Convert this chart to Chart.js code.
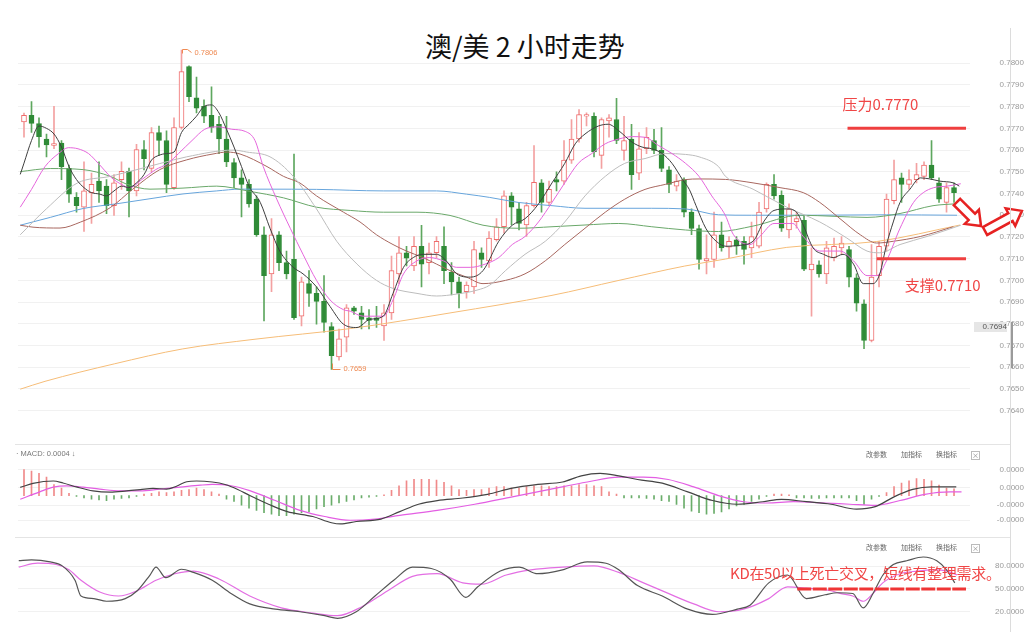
<!DOCTYPE html>
<html>
<head>
<meta charset="utf-8">
<script src="https://cdn.jsdelivr.net/npm/chart.js@4.4.0/dist/chart.umd.min.js"></script>
<style>
  body { margin: 0; width: 1024px; height: 632px; background: #fff; position: relative; overflow: hidden;
         font-family: "Noto Sans CJK SC", "Liberation Sans", sans-serif; }
  canvas { position: absolute; left: 0; }
  #main { top: 0; } #macd { top: 445px; } #kd { top: 538px; }
  #title { position: absolute; left: 425px; top: 26px; font-size: 27px; color: #111; white-space: nowrap; }
  .sep { position: absolute; left: 15px; width: 995px; height: 1px; background: #e4e4e4; }
  .vline { position: absolute; left: 1010px; top: 28px; width: 1px; height: 604px; background: #dcdcdc; }
  .thumb { position: absolute; left: 1011px; top: 322px; width: 2px; height: 46px; background: #9a9a9a; }
  .hdr { position: absolute; font: 7.5px "Liberation Sans", sans-serif; color: #777; white-space: nowrap; }
  .btns { position: absolute; left: 866px; font-size: 7px; color: #666; white-space: nowrap; }
  .btns span { margin-right: 14px; }
  .btns b { font-weight: normal; display: inline-block; width: 7px; height: 7px; line-height: 7px; text-align: center;
            border: 1px solid #bbb; font-size: 7px; color: #888; vertical-align: middle; }
  #kdnote { position: absolute; left: 730px; top: 562px; font-size: 15px; color: #f04545; white-space: nowrap; letter-spacing: -0.3px; }
  #lastbox { position: absolute; left: 974px; top: 322px; width: 33px; height: 10px; background: #e6e6e6;
             font: 8px "Liberation Sans", sans-serif; color: #555; text-align: right; line-height: 10px; }
</style>
</head>
<body>
<div id="title">澳/美 2 小时走势</div>
<canvas id="main" width="1024" height="445"></canvas>
<canvas id="macd" width="1024" height="93"></canvas>
<canvas id="kd" width="1024" height="94"></canvas>
<div class="sep" style="top:444px"></div>
<div class="sep" style="top:537px"></div>
<div class="vline"></div>
<div class="thumb"></div>
<div class="hdr" style="left:16px;top:449px">· MACD: 0.0004 ↓</div>
<div class="btns" style="top:449px"><span>改参数</span><span>加指标</span><span>换指标</span><b>×</b></div>
<div class="btns" style="top:542px"><span>改参数</span><span>加指标</span><span>换指标</span><b>×</b></div>
<div id="kdnote">KD在50以上死亡交叉，短线有整理需求。</div>
<div id="lastbox">0.7694</div>

<script>
// AUD/USD 2h candles, one per bar slot (index 0..124)
const opens = [0.77730,0.77760,0.77722,0.77651,0.77622,0.77632,0.77516,0.77382,0.77337,0.77404,
  0.77457,0.77434,0.77344,0.77464,0.77502,0.77412,0.77602,0.77516,0.77681,0.77644,
  0.77427,0.77704,0.77985,0.77841,0.77801,0.77760,0.77719,0.77651,0.77542,0.77472,
  0.77442,0.77374,0.77210,0.77030,0.77210,0.77082,0.77097,0.76835,0.76985,0.76940,
  0.76903,0.76787,0.76648,0.76738,0.76873,0.76850,0.76828,0.76828,0.76790,0.76850,
  0.77030,0.77127,0.77067,0.77157,0.77082,0.77127,0.77157,0.77037,0.76993,0.76948,
  0.76970,0.77127,0.77090,0.77187,0.77247,0.77389,0.77329,0.77255,0.77344,0.77449,
  0.77359,0.77464,0.77457,0.77554,0.77651,0.77756,0.77756,0.77576,0.77734,0.77741,
  0.77599,0.77651,0.77494,0.77606,0.77644,0.77599,0.77509,0.77434,0.77464,0.77314,
  0.77239,0.77090,0.77097,0.77210,0.77153,0.77187,0.77180,0.77150,0.77157,0.77329,
  0.77442,0.77392,0.77232,0.77270,0.77277,0.77048,0.77072,0.77030,0.77105,0.77150,
  0.77142,0.77012,0.76892,0.76723,0.77022,0.77157,0.77367,0.77472,0.77442,0.77464,
  0.77479,0.77531,0.77449,0.77359,0.77427];
const highs = [0.77770,0.77823,0.77749,0.77674,0.77801,0.77644,0.77531,0.77404,0.77546,0.77494,
  0.77546,0.77464,0.77487,0.77546,0.77517,0.77626,0.77644,0.77704,0.77711,0.77689,
  0.77749,0.78060,0.77988,0.77936,0.77831,0.77891,0.77756,0.77756,0.77561,0.77509,
  0.77464,0.77389,0.77247,0.77284,0.77225,0.77135,0.77582,0.77015,0.77045,0.76970,
  0.77022,0.76806,0.76776,0.76888,0.76880,0.76880,0.76866,0.76880,0.76888,0.77112,
  0.77202,0.77157,0.77202,0.77254,0.77172,0.77202,0.77247,0.77082,0.77015,0.76993,
  0.77180,0.77150,0.77225,0.77284,0.77412,0.77404,0.77359,0.77359,0.77621,0.77464,
  0.77457,0.77500,0.77644,0.77741,0.77786,0.77771,0.77771,0.77749,0.77763,0.77838,
  0.77756,0.77719,0.77681,0.77704,0.77696,0.77704,0.77524,0.77487,0.77472,0.77329,
  0.77255,0.77210,0.77314,0.77269,0.77202,0.77202,0.77202,0.77269,0.77359,0.77449,
  0.77487,0.77412,0.77352,0.77314,0.77299,0.77150,0.77090,0.77180,0.77195,0.77202,
  0.77157,0.77030,0.76910,0.77165,0.77180,0.77397,0.77554,0.77494,0.77509,0.77539,
  0.77546,0.77644,0.77472,0.77449,0.77449];
const lows = [0.77660,0.77681,0.77614,0.77569,0.77606,0.77464,0.77359,0.77314,0.77225,0.77262,
  0.77359,0.77307,0.77299,0.77419,0.77292,0.77389,0.77509,0.77501,0.77576,0.77404,
  0.77419,0.77696,0.77823,0.77771,0.77726,0.77681,0.77584,0.77524,0.77427,0.77292,
  0.77337,0.77202,0.76813,0.76948,0.77045,0.77007,0.76820,0.76790,0.76880,0.76798,
  0.76761,0.76590,0.76633,0.76671,0.76843,0.76776,0.76776,0.76783,0.76723,0.76820,
  0.76985,0.77067,0.77045,0.76970,0.77030,0.77105,0.76985,0.76933,0.76873,0.76918,
  0.76940,0.77060,0.77060,0.77180,0.77217,0.77255,0.77232,0.77202,0.77337,0.77314,
  0.77344,0.77412,0.77442,0.77539,0.77636,0.77711,0.77569,0.77516,0.77659,0.77629,
  0.77554,0.77419,0.77464,0.77584,0.77584,0.77501,0.77404,0.77412,0.77292,0.77210,
  0.77052,0.77030,0.77060,0.77135,0.77105,0.77120,0.77075,0.77105,0.77150,0.77314,
  0.77374,0.77225,0.77195,0.77240,0.77045,0.76835,0.77015,0.76985,0.77090,0.77120,
  0.76970,0.76858,0.76686,0.76716,0.76970,0.77135,0.77352,0.77359,0.77419,0.77449,
  0.77464,0.77464,0.77359,0.77314,0.77359];
const closes = [0.77760,0.77723,0.77662,0.77624,0.77630,0.77524,0.77397,0.77344,0.77412,0.77442,
  0.77412,0.77344,0.77449,0.77502,0.77412,0.77602,0.77561,0.77681,0.77644,0.77442,
  0.77704,0.77961,0.77846,0.77793,0.77756,0.77704,0.77651,0.77546,0.77472,0.77442,
  0.77352,0.77210,0.77022,0.77210,0.77082,0.77030,0.76828,0.76993,0.76940,0.76903,
  0.76806,0.76653,0.76731,0.76873,0.76858,0.76820,0.76816,0.76816,0.76850,0.77045,
  0.77127,0.77102,0.77157,0.77075,0.77127,0.77180,0.77045,0.76993,0.76940,0.76978,
  0.77142,0.77097,0.77195,0.77247,0.77389,0.77337,0.77262,0.77344,0.77452,0.77359,
  0.77419,0.77452,0.77554,0.77651,0.77763,0.77763,0.77591,0.77741,0.77749,0.77644,
  0.77644,0.77487,0.77606,0.77659,0.77599,0.77516,0.77442,0.77457,0.77314,0.77239,
  0.77097,0.77100,0.77210,0.77150,0.77180,0.77157,0.77142,0.77202,0.77314,0.77442,
  0.77389,0.77240,0.77329,0.77285,0.77052,0.77075,0.77030,0.77150,0.77157,0.77172,
  0.77015,0.76895,0.76723,0.77015,0.77157,0.77374,0.77464,0.77442,0.77464,0.77487,
  0.77531,0.77472,0.77374,0.77427,0.77404];

// moving averages as [bar index, price]
const ma5 = [[-0.5,0.77488],[0,0.7754],[1,0.77644],[2,0.77711],[3,0.77700],[4,0.77674],[5,0.77614],[6,0.77524],[7,0.77464],
  [8,0.77427],[9,0.77404],[10,0.77398],[11,0.77389],[12,0.77412],[13,0.77434],[14,0.77427],[15,0.77449],[16,0.77487],
  [17,0.77554],[18,0.77576],[19,0.77584],[20,0.77591],[21,0.77681],[22,0.77719],[23,0.77756],[24,0.77801],[25,0.77808],
  [26,0.77771],[27,0.77696],[28,0.77614],[29,0.77524],[30,0.77434],[31.5,0.77359],[32.8,0.77240],[34.1,0.77135],
  [35.9,0.77060],[37.2,0.77030],[39,0.76970],[40.8,0.76880],[42.6,0.76798],[44.4,0.76783],[46.1,0.76820],[47.9,0.76835],
  [49.2,0.76940],[50.6,0.77060],[51.9,0.77105],[53.2,0.77120],[55,0.77120],[56.3,0.77090],[57.7,0.77030],[59.5,0.77015],
  [61.2,0.77045],[63.3,0.77180],[65.1,0.77254],[66.8,0.77284],[68.6,0.77352],[70.4,0.77449],[72.1,0.77539],[73.5,0.77629],
  [74.8,0.77674],[76.6,0.77711],[77.9,0.77719],[79.3,0.77689],[81.1,0.77636],[82.4,0.77614],[83.7,0.77606],[85.1,0.77584],
  [86.4,0.77539],[87.8,0.77464],[88.7,0.77419],[89.6,0.77344],[90.9,0.77240],[92.3,0.77180],[93.6,0.77157],[95,0.77160],
  [97.2,0.77180],[98.6,0.77269],[100,0.77322],[101.7,0.77329],[103,0.77314],[103.9,0.77254],[105.2,0.77150],[106.6,0.77120],
  [107.9,0.77105],[109.2,0.77120],[110.6,0.77075],[111.9,0.76985],[113.2,0.76985],[114.1,0.77030],[115,0.77165],
  [115.9,0.77269],[116.8,0.77359],[118.1,0.77419],[119.5,0.77472],[120.8,0.77467],[122.1,0.77457],[123.9,0.77449],[124.7,0.77434]];
const ma10 = [[-0.5,0.77337],[1,0.77419],[2.8,0.77524],[4.6,0.77584],[5.9,0.77611],[7.2,0.77606],[8.6,0.77584],[9.9,0.77539],
  [11.7,0.77472],[13,0.77442],[14.1,0.77427],[15.7,0.77464],[17.5,0.77509],[19.2,0.77539],[20.6,0.77584],[22.4,0.77644],
  [24.1,0.77696],[25.9,0.77707],[27.7,0.77696],[29.5,0.77686],[30.8,0.77644],[31.9,0.77524],[33.7,0.77374],[35.5,0.77240],
  [37.2,0.77120],[39,0.77000],[40.8,0.76910],[42.6,0.76865],[43.5,0.76858],[45.2,0.76835],[47.9,0.76835],[49.2,0.76910],
  [50.6,0.77030],[52.4,0.77090],[54.1,0.77105],[55.9,0.77090],[57.7,0.77060],[59.5,0.77060],[61.5,0.77075],[63.3,0.77105],
  [65.1,0.77165],[66.8,0.77202],[68.6,0.77269],[70.4,0.77359],[72.1,0.77449],[73.9,0.77539],[75.7,0.77584],[77.5,0.77629],
  [79.3,0.77651],[81.1,0.77662],[82.8,0.77659],[84.6,0.77621],[86.4,0.77584],[88.2,0.77539],[90,0.77479],[91.7,0.77389],
  [93.5,0.77300],[94.6,0.77210],[96.8,0.77165],[98.1,0.77202],[100,0.77262],[102.5,0.77262],[103.9,0.77202],[106.1,0.77135],
  [108.8,0.77135],[110.6,0.77090],[112.4,0.77022],[113.7,0.77022],[115,0.77090],[116.8,0.77240],[118.6,0.77359],
  [119.9,0.77404],[121.3,0.77427],[123.1,0.77434],[124.9,0.77445]];
const ma20 = [[-0.5,0.77210],[3,0.77330],[7.1,0.77448],[11.5,0.77479],[18.1,0.77538],[21.7,0.77569],[27.9,0.77600],
  [29.7,0.77591],[32.8,0.77569],[35.9,0.77479],[39,0.77329],[41.7,0.77180],[44.4,0.77075],[47,0.77000],[49.2,0.76963],
  [52.4,0.76940],[55,0.76928],[57.7,0.76937],[60.4,0.76955],[62.1,0.76978],[64.2,0.77045],[66.8,0.77120],[69.5,0.77180],
  [72.1,0.77269],[74.8,0.77389],[77.5,0.77479],[80.1,0.77539],[82.8,0.77561],[85.5,0.77584],[88.2,0.77580],[90,0.77569],
  [92.6,0.77524],[93.5,0.77480],[97.2,0.77420],[101.7,0.77337],[106.1,0.77269],[109.7,0.77195],[112.4,0.77135],
  [114.1,0.77127],[116.8,0.77165],[120.4,0.77202],[124.9,0.77254]];
const ma30 = [[-0.5,0.77254],[1.2,0.77245],[4.8,0.77241],[7.5,0.77268],[11.5,0.77335],[14.5,0.77420],[18.1,0.77510],
  [21.7,0.77555],[25.2,0.77582],[27.1,0.77591],[28.8,0.77582],[32.4,0.77524],[34.6,0.77479],[36.8,0.77448],[39,0.77389],
  [42.6,0.77314],[44.8,0.77269],[47,0.77210],[49.2,0.77165],[51,0.77135],[53.2,0.77105],[55,0.77075],[56.8,0.77045],
  [59,0.77015],[61.2,0.76985],[64.2,0.77000],[66.8,0.77030],[69.5,0.77090],[72.1,0.77165],[74.8,0.77240],[77.5,0.77314],
  [80.1,0.77374],[82.8,0.77419],[85.5,0.77442],[88.2,0.77464],[90,0.77467],[93.5,0.77465],[97.2,0.77449],[100.8,0.77427],
  [103.9,0.77404],[106.1,0.77359],[108.8,0.77284],[111.5,0.77210],[113.7,0.77172],[115.9,0.77180],[119.5,0.77202],[123.9,0.77247]];
const ma60 = [[-0.5,0.77501],[3.5,0.77515],[7.9,0.77510],[11.5,0.77479],[13.7,0.77443],[16.8,0.77420],[21.2,0.77425],
  [25.7,0.77434],[30.1,0.77410],[34.6,0.77380],[39,0.77337],[43.5,0.77322],[47.9,0.77314],[52.4,0.77314],[56.8,0.77299],
  [61.2,0.77254],[65.9,0.77240],[70.4,0.77247],[74.8,0.77255],[79.3,0.77262],[83.7,0.77247],[88.2,0.77232],[92.6,0.77225],
  [97.2,0.77250],[103.5,0.77300],[108,0.77295],[112.4,0.77290],[116.8,0.77308],[121.2,0.77344],[124.4,0.77353]];
const ma120 = [[-0.5,0.77254],[3.5,0.77290],[7.9,0.77331],[12.4,0.77353],[16.8,0.77376],[21.2,0.77398],[25.7,0.77412],
  [28.8,0.77420],[32.4,0.77420],[39,0.77419],[47.9,0.77412],[55,0.77412],[59,0.77397],[62.1,0.77382],[65.9,0.77359],
  [70.4,0.77344],[74.8,0.77332],[79.3,0.77332],[83.7,0.77332],[88.2,0.77329],[92.6,0.77302],[97,0.77300],[105,0.77300],
  [115,0.77302],[124.4,0.77300]];
const ma250 = [[-0.5,0.76499],[2.8,0.76535],[12.1,0.76616],[21.1,0.76684],[30.8,0.76729],[43.5,0.76778],[56.8,0.76850],
  [70.4,0.76931],[79.2,0.76999],[88.1,0.77066],[93.5,0.77098],[101.7,0.77152],[113.7,0.77179],[124.8,0.77255]];

// resistance / support marked on the chart
const resistance = 0.7770, resistanceSpan = [109.8, 125.6];
const support = 0.7710, supportSpan = [113.7, 125.6];
const priceTicks = [0.7640,0.7650,0.7660,0.7670,0.7680,0.7690,0.7700,0.7710,0.7720,0.7730,0.7740,0.7750,0.7760,0.7770,0.7780,0.7790,0.7800];

// MACD panel, values in units of 1e-6
const macdHist = [35,33,30,25,15,10,3,-1,-3,-5, -6,-7,-5,-4,-3,-1,2,3,5,4, 5,7,8,10,8,5,2,-5,-8,-13,
  -17,-20,-23,-25,-27,-27,-25,-23,-22,-18, -15,-13,-10,-8,-6,-3,-2,-1,1,7, 13,20,22,22,22,21,18,13,8,7,
  8,8,10,12,12,10,10,12,13,13, 12,12,13,13,15,15,13,12,5,2, -3,-3,-3,-4,-5,-7,-8,-12,-17,-21,
  -23,-25,-24,-22,-18,-14,-12,-8,-5,-1, 2,2,1,-3,-3,-4,-4,-3,-3,-3, -3,-7,-12,-5,-1,4,12,17,20,23, 22,20,14,10,9];
const macdDif = [[-0.5,11],[1.2,16.5],[3.9,19.7],[5.2,17],[7.1,11.3],[9.2,6.3],[11.5,4.7],[13.7,6.3],[15.5,8],[17.2,9.7],
  [19,8.7],[20.4,13],[21.7,18.7],[23,19.7],[25.1,18.3],[26.8,15],[28.5,8.3],[30.1,0],[32.6,-11.7],[35.1,-21.7],[38.5,-28.3],
  [41,-36.7],[42.2,-38.3],[44.3,-35],[47.6,-31.7],[50.1,-21.7],[52.6,-11.7],[55.1,-6.7],[58.5,-3.3],[61.8,1.7],[65.1,10],
  [68.5,15],[71.8,18.3],[74.3,26.7],[76.8,30],[79.3,26.7],[81.8,21.7],[85.1,16.7],[88.5,5],[91.8,-6.7],[95.1,-11.7],
  [98.5,-8.3],[101,-5],[104.3,-8.3],[107.6,-11.7],[111,-18.3],[113.5,-15],[116,-1.7],[118.5,8.3],[121,11.7],[124.3,11.7]];
const macdDea = [[-0.5,-5],[2.1,5],[3.9,11.3],[5.7,13],[7.9,11.3],[10.1,8.7],[12.8,6.3],[15.5,6.3],[18.1,8.7],[20.8,11.3],
  [23.5,14],[25.1,15],[27.6,13.3],[30.1,6.7],[33.5,-6.7],[36.8,-20],[40.1,-28.3],[43.5,-33.3],[46.8,-31.7],[50.1,-26.7],
  [55.1,-20],[60.1,-11.7],[65.1,-1.7],[70.1,8.3],[75.1,18.3],[79.3,25],[82.6,25],[85.9,21.7],[89.3,11.7],[92.6,0],
  [95.9,-8.3],[99.1,-10],[102.6,-8.3],[106.8,-10],[110.1,-11.7],[113.5,-13.3],[116.8,-6.7],[120.1,1.7],[123.5,5],[125,5]];
const macdTicks = [35, 11, -13, -33];

// KD panel
const kdK = [[-0.7,87.2],[1,88.3],[3.5,85.5],[5.1,80.3],[6.8,61.4],[7.6,40.7],[9.3,37.3],[11,33.8],[13.5,37.3],[15.1,47.6],
  [16.8,68.3],[17.6,78.7],[18.9,64.8],[21,75.9],[22.6,71.7],[25.1,61.4],[27.6,44.1],[30.1,30.3],[33.5,23.4],[36.8,20],
  [40.1,14.8],[41.8,11.4],[44.3,20],[46.8,40.7],[49.3,61.4],[51.8,78.7],[54.3,76.9],[56.8,63.1],[58.9,38.9],[60.5,52.8],
  [63.5,73.5],[66,78.7],[68.5,70],[71.8,75.1],[75.1,85.5],[77.6,83.8],[79.3,75.1],[81.8,54.4],[85.1,40.7],[88.5,23.4],
  [91.8,16.6],[95.1,23.4],[96.8,28.6],[99.3,58],[101.8,68.3],[104.3,37.3],[106.8,42.4],[108.5,45],[110.5,44],[111.9,25],
  [113.2,44],[114.5,68],[115.9,82],[117.7,87],[119.9,92],[121.7,87],[123,75],[124.1,58]];
const kdD = [[-0.7,78.7],[1.8,83.8],[4.3,82.1],[6,75.1],[7.6,61.4],[10.1,45.9],[12.6,40.7],[15.1,47.6],[17.6,61.4],[20.1,70],
  [22.6,73.5],[26,63.1],[30.1,40.7],[34.3,25.2],[38.5,18.3],[41.8,14.8],[45.1,26.9],[48.5,47.6],[51.8,66.6],[55.1,70],
  [58.5,58],[61,56.2],[64.3,68.3],[67.6,75.1],[71.8,78.7],[76,80.3],[79.3,71.7],[82.6,58],[85.9,44.1],[89.3,30.3],
  [92.6,20],[95.9,23.4],[99.3,37.3],[101.8,52.8],[104.3,51],[107.6,47.6],[108.8,44.1],[110.5,40.7],[111.9,33.8],
  [113.2,44.1],[114.5,58],[116.8,70],[119.1,73.5],[121.2,75.1],[123.1,73.5],[124.4,68.3]];
const kdTicks = [20, 50, 80];
const kdLevel = 50, kdLevelSpan = [103.1, 125.6];

Chart.defaults.font.family = '"Liberation Sans", Arial, sans-serif';
Chart.defaults.animation = false;
Chart.defaults.plugins.legend.display = false;
Chart.defaults.plugins.tooltip.enabled = false;

const idx = opens.map((_, i) => i);
const up = i => closes[i] >= opens[i];
const RED = '#ef6b6b', GREEN = '#2f8b37';

const xAxis = { type: 'linear', min: -0.8, max: 126.13, display: false, offset: false };

function rightAxis(min, max, ticks, pad, fmt) {
  return {
    position: 'right', min, max,
    afterFit: s => { s.width = 54; },
    afterBuildTicks: s => { s.ticks = ticks.map(v => ({ value: v })); },
    grid: { color: '#f1f1f1', drawTicks: false },
    border: { display: false },
    ticks: { padding: pad, crossAlign: 'far', autoSkip: false, color: '#9a9a9a', font: { size: 8 }, callback: fmt }
  };
}

function line(pts, color, width, extra) {
  return Object.assign({
    type: 'line', data: pts.map(([x, y]) => ({ x, y })), borderColor: color, borderWidth: width || 1,
    pointRadius: 0, cubicInterpolationMode: 'monotone', fill: false, order: 0
  }, extra || {});
}

function span(range, level) {
  return range.map(x => [x, level]);
}

// hollow block arrow used for the hand-drawn markers
function blockArrow(ctx, x0, y0, ang, len) {
  const shaft = 9, head = 20, headLen = 13;
  ctx.save();
  ctx.translate(x0, y0); ctx.rotate(ang);
  ctx.beginPath();
  ctx.moveTo(0, -shaft / 2); ctx.lineTo(len - headLen, -shaft / 2); ctx.lineTo(len - headLen, -head / 2);
  ctx.lineTo(len, 0); ctx.lineTo(len - headLen, head / 2); ctx.lineTo(len - headLen, shaft / 2);
  ctx.lineTo(0, shaft / 2); ctx.closePath();
  ctx.fillStyle = '#fff'; ctx.fill();
  ctx.strokeStyle = '#e62222'; ctx.lineWidth = 2.5; ctx.lineJoin = 'miter'; ctx.stroke();
  ctx.restore();
}

const mainDecor = {
  id: 'mainDecor',
  afterDraw(chart) {
    const { ctx, scales: { x, y } } = chart;
    ctx.save();
    // highest / lowest price tags
    const hi = Math.max(...highs), hiI = highs.indexOf(hi);
    const lo = Math.min(...lows), loI = lows.indexOf(lo);
    ctx.strokeStyle = ctx.fillStyle = '#ef8a52';
    ctx.lineWidth = 1;
    ctx.font = '7.5px "Liberation Sans"';
    ctx.textBaseline = 'middle';
    let px = Math.round(x.getPixelForValue(hiI)) + 0.5, py = Math.round(y.getPixelForValue(hi)) + 0.5;
    ctx.beginPath(); ctx.moveTo(px, py + 3); ctx.lineTo(px, py - 1); ctx.lineTo(px + 5, py - 1); ctx.lineTo(px + 9, py + 2); ctx.stroke();
    ctx.fillText(hi.toFixed(4), px + 12, py + 2);
    px = Math.round(x.getPixelForValue(loI)) + 0.5; py = Math.round(y.getPixelForValue(lo)) + 0.5;
    ctx.beginPath(); ctx.moveTo(px, py - 6); ctx.lineTo(px, py); ctx.lineTo(px + 8, py); ctx.stroke();
    ctx.fillText(lo.toFixed(4), px + 11, py - 1);

    // level captions
    ctx.fillStyle = '#f04646';
    ctx.font = '15px "Noto Sans CJK SC"';
    ctx.fillText('压力' + resistance.toFixed(4), x.getPixelForValue(resistanceSpan[0]) - 5, y.getPixelForValue(resistance) - 24);
    ctx.fillText('支撑' + support.toFixed(4), x.getPixelForValue(supportSpan[0]) + 28, y.getPixelForValue(support) + 27);

    // arrows
    blockArrow(ctx, 957, 202, Math.PI / 4, 34);
    blockArrow(ctx, 985, 231, -0.5, 42);
    ctx.restore();
  }
};

new Chart(document.getElementById('main'), {
  type: 'bar',
  data: {
    datasets: [
      { data: idx.map(i => ({ x: i, y: [lows[i], highs[i]] })), backgroundColor: idx.map(i => up(i) ? '#f3a1a1' : '#5ea75f'),
        barThickness: 1, grouped: false, order: 2 },
      { data: idx.map(i => ({ x: i, y: [opens[i], closes[i]] })), backgroundColor: idx.map(i => up(i) ? '#ffffff' : GREEN),
        borderColor: idx.map(i => up(i) ? RED : GREEN), borderWidth: 1, borderSkipped: false,
        barThickness: 5, minBarLength: 1, grouped: false, order: 1 },
      line(ma5, '#3f3f3f'),
      line(ma10, '#e566dc'),
      line(ma20, '#bdbdbd'),
      line(ma30, '#a8675f'),
      line(ma60, '#6aa86a'),
      line(ma120, '#67a5dc'),
      line(ma250, '#f6bd78'),
      line(span(resistanceSpan, resistance), '#ef3f3f', 3, { order: -1, cubicInterpolationMode: 'default', tension: 0 }),
      line(span(supportSpan, support), '#ef3f3f', 3, { order: -1, cubicInterpolationMode: 'default', tension: 0 })
    ]
  },
  options: {
    responsive: false,
    layout: { padding: { left: 18, top: 35, bottom: 5, right: 0 } },
    scales: { x: xAxis, y: rightAxis(0.7631, 0.7813, priceTicks, 10, v => v.toFixed(4)) }
  },
  plugins: [mainDecor]
});

new Chart(document.getElementById('macd'), {
  type: 'bar',
  data: {
    datasets: [
      { data: idx.map(i => ({ x: i, y: macdHist[i] })), backgroundColor: idx.map(i => macdHist[i] >= 0 ? '#f08a8a' : '#6aad6a'),
        barThickness: 1, grouped: false, order: 1 },
      line(macdDif, '#444444', 1.2),
      line(macdDea, '#e35ee3', 1.2)
    ]
  },
  options: {
    responsive: false,
    layout: { padding: { left: 18, top: 2, bottom: 0, right: 0 } },
    scales: { x: xAxis, y: rightAxis(-40, 51, macdTicks, 8, v => (v * 1e-6).toFixed(4)) }
  }
});

new Chart(document.getElementById('kd'), {
  type: 'line',
  data: {
    datasets: [
      line(kdK, '#555555', 1.2),
      line(kdD, '#e36ee3', 1.2),
      line(span(kdLevelSpan, kdLevel), '#ef3535', 3, { order: -1, borderDash: [14, 1.5], cubicInterpolationMode: 'default', tension: 0 })
    ]
  },
  options: {
    responsive: false,
    layout: { padding: { left: 18, top: 2, bottom: 0, right: 0 } },
    scales: { x: xAxis, y: rightAxis(7.59, 102.76, kdTicks, 6, v => v.toFixed(4)) }
  }
});
</script>
</body>
</html>
